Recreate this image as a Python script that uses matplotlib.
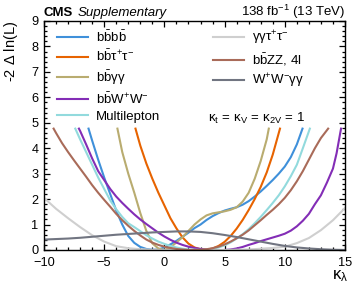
import numpy as np
import matplotlib
matplotlib.use("Agg")
import matplotlib.pyplot as plt
from matplotlib.ticker import MultipleLocator
from matplotlib.lines import Line2D

plt.rcParams['font.family'] = ['Liberation Sans', 'DejaVu Sans']
plt.rcParams['mathtext.fontset'] = 'custom'
plt.rcParams['mathtext.rm'] = 'Liberation Sans'
plt.rcParams['mathtext.it'] = 'Liberation Sans'
plt.rcParams['mathtext.bf'] = 'Liberation Sans:bold'

# scan values (kappa_lambda, -2 dlnL)
kl_4b = [-6.3, -6, -5.5, -5, -4.5, -4, -3.5, -3, -2.5, -2, -1.5, -1, -0.5, 0, 0.5, 1, 1.5, 2, 2.5, 3,
         3.5, 4, 4.5, 5, 5.5, 6, 6.5, 7, 7.5, 8, 8.5, 9, 9.5, 10, 10.5, 11, 11.47]
nll_4b = [4.77, 4.3, 3.55, 2.85, 2.2, 1.55, 1.0, 0.55, 0.28, 0.12, 0.04, 0.01, 0.02, 0.1, 0.22, 0.36, 0.52, 0.68, 0.86, 1.0,
          1.18, 1.33, 1.45, 1.55, 1.62, 1.68, 1.78, 1.92, 2.1, 2.3, 2.52, 2.75, 3.0, 3.28, 3.65, 4.15, 4.77]

kl_tautau = [-2.4, -2, -1.5, -1, -0.5, 0, 0.5, 1, 1.5, 2, 2.5, 3, 3.5, 4, 4.5, 5, 5.5, 6, 6.5, 7, 7.5, 8, 8.5, 9, 9.6]
nll_tautau = [4.77, 4.1, 3.4, 2.8, 2.25, 1.75, 1.25, 0.85, 0.5, 0.25, 0.1, 0.03, 0.01, 0.06, 0.16, 0.32, 0.55, 0.84,
              1.18, 1.57, 2.0, 2.48, 3.05, 3.75, 4.77]

kl_gg = [-3.9, -3.5, -3, -2.5, -2, -1.5, -1, -0.5, 0, 0.5, 1, 1.5, 2, 2.5, 3, 3.5, 4, 4.5, 5, 5.5, 6, 6.5, 7,
         7.5, 8, 8.5, 8.67]
nll_gg = [4.77, 3.85, 3.0, 2.25, 1.45, 0.75, 0.26, 0.06, 0.0, 0.1, 0.3, 0.5, 0.75, 1.0, 1.2, 1.36, 1.44, 1.48, 1.52,
          1.58, 1.68, 1.9, 2.25, 2.8, 3.5, 4.35, 4.77]

kl_ww = [-7.1, -7, -6.5, -6, -5.5, -5, -4.5, -4, -3.5, -3, -2.5, -2, -1.5, -1, -0.5, 0, 0.5, 1, 1.5, 2, 2.5, 3,
         3.5, 4, 4.5, 5, 5.5, 6, 6.5, 7, 7.5, 8, 8.5, 9, 9.5, 10, 10.5, 11, 11.5, 12, 12.5, 13, 13.5, 14, 14.3, 14.67]
nll_ww = [4.77, 4.68, 4.15, 3.6, 3.1, 2.75, 2.4, 2.1, 1.85, 1.62, 1.4, 1.2, 1.02, 0.85, 0.68, 0.53, 0.4, 0.29, 0.2,
          0.13, 0.08, 0.04, 0.02, 0.01, 0.0, 0.0, 0.02, 0.06, 0.12, 0.2, 0.27, 0.35, 0.42, 0.49, 0.56, 0.64, 0.76,
          0.93, 1.15, 1.42, 1.8, 2.15, 2.65, 3.2, 3.8, 4.77]

kl_ml = [-7.4, -7, -6.5, -6, -5.5, -5, -4.5, -4, -3.5, -3, -2.5, -2, -1.5, -1, -0.5, 0, 0.5, 1, 1.5, 2, 2.5, 3,
         3.5, 4, 4.5, 5, 5.5, 6, 6.5, 7, 7.5, 8, 8.5, 9, 9.5, 10, 10.5, 11, 11.5, 12.08]
nll_ml = [4.77, 4.35, 3.85, 3.35, 2.85, 2.4, 1.95, 1.6, 1.3, 1.05, 0.9, 0.74, 0.58, 0.45, 0.33, 0.24, 0.16, 0.1,
          0.05, 0.02, 0.01, 0.0, 0.01, 0.04, 0.1, 0.18, 0.3, 0.45, 0.62, 0.82, 1.05, 1.3, 1.57, 1.85, 2.15, 2.5,
          2.9, 3.35, 4.0, 4.77]

kl_ggtt = [-10, -9, -8, -7, -6, -5, -4, -3, -2, -1, 0, 1, 2, 3, 4, 5, 6, 7, 8, 9, 10, 11, 12, 13, 14, 15]
nll_ggtt = [2.05, 1.62, 1.25, 0.9, 0.58, 0.33, 0.15, 0.07, 0.03, 0.01, 0.0, 0.0, 0.0, 0.0, 0.0, 0.0, 0.01, 0.02,
            0.05, 0.08, 0.13, 0.27, 0.47, 0.78, 1.17, 1.65]

kl_zz = [-9.2, -9, -8.5, -8, -7.5, -7, -6.5, -6, -5.5, -5, -4.5, -4, -3.5, -3, -2.5, -2, -1.5, -1, -0.5, 0, 0.5,
         1, 1.5, 2, 2.5, 3, 3.5, 4, 4.5, 5, 5.5, 6, 6.5, 7, 7.5, 8, 8.5, 9, 9.5, 10, 10.5, 11, 11.5, 12, 12.5, 13, 13.6]
nll_zz = [4.77, 4.6, 4.2, 3.85, 3.52, 3.2, 2.88, 2.55, 2.25, 1.97, 1.7, 1.42, 1.17, 0.95, 0.75, 0.57, 0.41, 0.29,
          0.2, 0.13, 0.08, 0.04, 0.02, 0.0, 0.0, 0.01, 0.03, 0.07, 0.13, 0.22, 0.33, 0.46, 0.6, 0.77, 0.97, 1.17,
          1.38, 1.58, 1.8, 2.05, 2.35, 2.7, 3.1, 3.55, 4.0, 4.4, 4.77]

kl_wwgg = [-10, -9, -8, -7, -6, -5, -4, -3, -2, -1, 0, 1, 2, 3, 4, 5, 6, 7, 8, 9, 10, 11, 12, 13, 14, 15]
nll_wwgg = [0.41, 0.43, 0.45, 0.48, 0.52, 0.56, 0.6, 0.63, 0.66, 0.69, 0.71, 0.73, 0.73, 0.71, 0.66, 0.59, 0.51,
            0.42, 0.33, 0.24, 0.16, 0.1, 0.06, 0.03, 0.01, 0.0]

fig = plt.figure(figsize=(3.57, 2.86), dpi=100)
ax = fig.add_axes([0.1232, 0.1259, 0.8432, 0.8007])

lw = 1.5
l4b, = ax.plot(kl_4b, nll_4b, color='#3f90da', lw=lw)
ltt, = ax.plot(kl_tautau, nll_tautau, color='#e76300', lw=lw)
lgg, = ax.plot(kl_gg, nll_gg, color='#b9ac70', lw=lw)
lww, = ax.plot(kl_ww, nll_ww, color='#832db6', lw=lw)
lml, = ax.plot(kl_ml, nll_ml, color='#92dadd', lw=lw)
lggtt, = ax.plot(kl_ggtt, nll_ggtt, color='#cfcfcf', lw=lw)
lzz, = ax.plot(kl_zz, nll_zz, color='#a96b59', lw=lw)
lwwgg, = ax.plot(kl_wwgg, nll_wwgg, color='#717581', lw=lw)

ax.set_xlim(-10, 15)
ax.set_ylim(0, 9)
ax.xaxis.set_major_locator(MultipleLocator(5))
ax.xaxis.set_minor_locator(MultipleLocator(1))
ax.yaxis.set_major_locator(MultipleLocator(1))
ax.yaxis.set_minor_locator(MultipleLocator(0.2))
ax.tick_params(which='both', direction='in', top=True, right=True, labelsize=9.2, width=0.9)
ax.tick_params(which='major', length=4.5)
ax.tick_params(which='minor', length=2.3)
ax.tick_params(axis='x', pad=5)
ax.tick_params(axis='y', pad=4)
for sp in ax.spines.values():
    sp.set_linewidth(1.0)

leg_kw = dict(frameon=False, fontsize=9.5, handlelength=2.4, handletextpad=0.6,
              labelspacing=0.32, borderpad=0, borderaxespad=0, loc='upper left')
leg1 = ax.legend([l4b, ltt, lgg, lww, lml],
                 [r'$\mathrm{b\bar{b}b\bar{b}}$', r'$\mathrm{b\bar{b}\tau^{+}\tau^{-}}$',
                  r'$\mathrm{b\bar{b}\gamma\gamma}$', r'$\mathrm{b\bar{b}W^{+}W^{-}}$', 'Multilepton'],
                 bbox_to_anchor=(0.042, 0.965), **leg_kw)
ax.add_artist(leg1)
ax.legend([lggtt, lzz, lwwgg],
          [r'$\mathrm{\gamma\gamma\tau^{+}\tau^{-}}$', r'$\mathrm{b\bar{b}ZZ}$, 4l', r'$\mathrm{W^{+}W^{-}\gamma\gamma}$'],
          bbox_to_anchor=(0.56, 0.965), **leg_kw)

ax.text(0.545, 0.575, r'$\kappa_{t}\,=\,\kappa_{V}\,=\,\kappa_{2V}\,=\,1$', transform=ax.transAxes,
        fontsize=9.5, ha='left', va='center')

fig.text(0.1232, 0.945, 'CMS', fontsize=9.5, fontweight='bold', ha='left', va='baseline')
fig.text(0.218, 0.945, 'Supplementary', fontsize=9.5, style='italic', ha='left', va='baseline')
fig.text(0.9664, 0.945, r'138 fb$^{-1}$ (13 TeV)', fontsize=9.5, ha='right', va='baseline')

fig.text(0.03, 0.9266, r'-2 $\Delta$ ln(L)', rotation=90, fontsize=10.5, ha='center', va='top')
fig.text(0.975, 0.025, r'$\kappa_{\lambda}$', fontsize=12, ha='right', va='baseline')

plt.savefig('out.png', dpi=100)
